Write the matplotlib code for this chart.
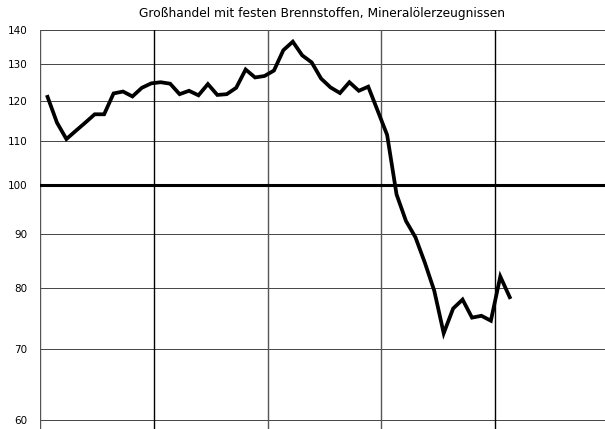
import numpy as np
import matplotlib.pyplot as plt
from matplotlib.ticker import FixedLocator, FixedFormatter, NullLocator

# monthly index values (1 point per month, 12 months per grid column)
months = np.arange(50)
index_values = [
    121.1, 114.5, 110.5, 112.5, 114.5, 116.6, 116.6, 122.0, 122.5, 121.2,
    123.5, 124.7, 125.0, 124.6, 121.8, 122.7, 121.5, 124.5, 121.6, 121.8,
    123.5, 128.5, 126.3, 126.7, 128.2, 134.0, 136.5, 132.5, 130.5, 126.0,
    123.6, 122.1, 125.0, 122.7, 123.8, 117.5, 111.5, 98.0, 92.5, 89.3,
    84.5, 79.5, 72.5, 76.5, 78.0, 75.0, 75.3, 74.5, 82.0, 78.4,
]
y_ticks = [60, 70, 80, 90, 100, 110, 120, 130, 140]
year_starts = [-0.8, 11.3, 23.4, 35.4, 47.4]
title = "Großhandel mit festen Brennstoffen, Mineralölerzeugnissen"

fig = plt.figure(figsize=(6.05, 4.29), dpi=100)
ax = fig.add_axes([40 / 605, 0.0, 1 - 40 / 605, 1 - 30 / 429])

ax.set_yscale("log")
ax.set_ylim(58.9, 140)
ax.set_xlim(-0.8, 59.1)

# horizontal grid
for v in y_ticks:
    if v == 100:
        ax.axhline(v, color="black", lw=2.2, zorder=2)
    else:
        ax.axhline(v, color="#444444", lw=0.7, zorder=1)

# vertical grid (year boundaries)
line_cols = ["#555555", "black", "#555555", "#555555", "black"]
for xv, col in zip(year_starts, line_cols):
    ax.axvline(xv, color=col, lw=1.0, zorder=1)

ax.plot(months, index_values, color="black", lw=2.7, solid_joinstyle="miter", zorder=3)

ax.yaxis.set_major_locator(FixedLocator(y_ticks))
ax.yaxis.set_major_formatter(FixedFormatter([str(t) for t in y_ticks]))
ax.yaxis.set_minor_locator(NullLocator())
ax.set_xticks([])
ax.tick_params(axis="y", length=0, pad=9, labelsize=7.5)

for s in ["top", "right", "bottom", "left"]:
    ax.spines[s].set_visible(False)

fig.text(322 / 605, 1 - 13 / 429, title, ha="center", va="center", fontsize=8.8)

fig.savefig("out.png", dpi=100)
